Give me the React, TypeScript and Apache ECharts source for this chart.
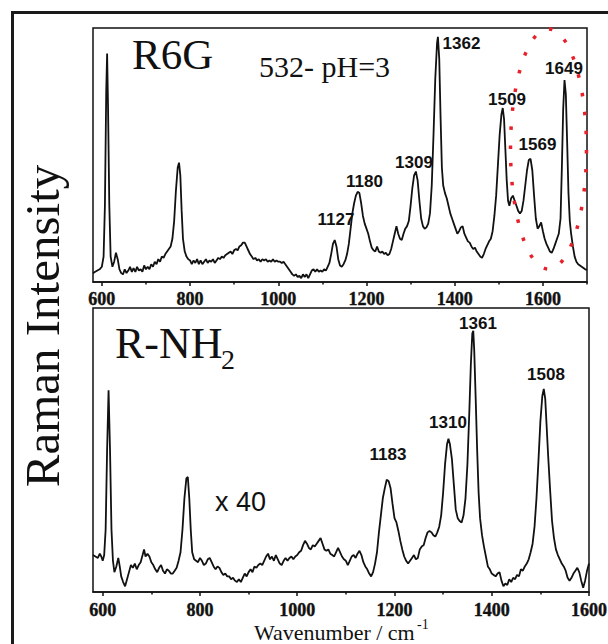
import React, { useEffect, useRef } from "react";
import * as echarts from "echarts";

// ---------- DATA ----------
const topWavenumbers = [
  580, 585, 590, 595, 600, 604, 607, 610, 612, 614, 617, 620, 624, 628, 632, 636, 640, 644, 648, 652,
  656, 660, 664, 668, 672, 676, 680, 684, 688, 692, 696, 700, 704, 708, 712, 716, 720, 724, 728, 732,
  736, 740, 744, 748, 752, 756, 760, 764, 768, 772, 775, 778, 781, 784, 788, 792, 796, 800, 804, 808,
  812, 816, 820, 824, 828, 832, 836, 840, 844, 848, 852, 856, 860, 864, 868, 872, 876, 880, 884, 888,
  892, 896, 900, 904, 908, 912, 916, 920, 924, 928, 932, 936, 940, 944, 948, 952, 956, 960, 964, 968,
  972, 976, 980, 984, 988, 992, 996, 1000, 1004, 1008, 1012, 1016, 1020, 1024, 1028, 1032, 1036, 1040,
  1044, 1048, 1052, 1056, 1060, 1064, 1068, 1072, 1076, 1080, 1084, 1088, 1092, 1096, 1100, 1104, 1108,
  1112, 1116, 1120, 1124, 1128, 1132, 1136, 1140, 1144, 1148, 1152, 1156, 1160, 1164, 1168, 1172, 1176,
  1180, 1184, 1188, 1192, 1196, 1200, 1204, 1208, 1212, 1216, 1220, 1224, 1228, 1232, 1236, 1240, 1244,
  1248, 1252, 1256, 1260, 1264, 1268, 1272, 1276, 1280, 1284, 1288, 1292, 1296, 1300, 1304, 1308, 1312,
  1316, 1320, 1324, 1328, 1332, 1336, 1340, 1344, 1348, 1352, 1356, 1360, 1362, 1365, 1368, 1371, 1374,
  1378, 1382, 1386, 1390, 1394, 1398, 1402, 1406, 1410, 1414, 1418, 1422, 1426, 1430, 1434, 1438, 1442,
  1446, 1450, 1454, 1458, 1462, 1466, 1470, 1474, 1478, 1482, 1486, 1490, 1494, 1498, 1502, 1506, 1509,
  1512, 1515, 1518, 1521, 1524, 1528, 1532, 1536, 1540, 1544, 1548, 1552, 1556, 1560, 1564, 1568, 1572,
  1576, 1580, 1584, 1588, 1592, 1596, 1600, 1604, 1608, 1612, 1616, 1620, 1624, 1628, 1632, 1636, 1640,
  1643, 1646, 1649, 1652, 1655, 1658, 1661, 1664, 1668, 1672, 1676, 1680, 1684, 1688, 1692, 1696, 1700,
];
const topIntensity = [
  3.5, 4, 4.5, 5, 6, 10, 30, 75, 90, 70, 30, 10, 6, 8, 11.5, 9, 5, 3.5, 3, 5,
  3.5, 4.5, 6, 4, 5.5, 4, 6, 4.5, 5, 4, 6.5, 5, 6, 5, 7, 6, 8, 7, 9, 8,
  10, 9.5, 11, 12, 13, 14, 17, 24, 36, 45, 47, 42, 28, 17, 12, 10, 9, 8.5, 7, 8.5,
  7.5, 9, 7, 8.5, 7, 8, 9, 7.5, 8.5, 8, 9, 7.5, 8.5, 9.5, 9, 10, 9.5, 10.5, 11, 11.5,
  12, 11, 12.5, 13, 12.5, 14, 14.5, 15.5, 15.5, 14, 12.5, 11, 10, 9, 9.5, 8.5, 9, 8, 9, 8.5,
  9, 8, 8.5, 8, 9, 8, 8.5, 8, 8, 7.5, 8, 7, 6, 5, 4, 3, 2.5, 3,
  2, 2.5, 1.5, 3, 2, 3, 1.5, 3, 4.5, 5, 4, 5, 4, 4.5, 4, 5, 4.5,
  6, 7.5, 11, 15, 16.5, 14, 9, 6.5, 6, 7, 8.5, 11, 15, 21, 27, 31, 34,
  35.5, 35, 31, 26, 23, 21, 19, 16, 13.5, 12.5, 12, 14, 12, 11.5, 12, 11, 11.5,
  10.5, 11, 13, 16, 19, 22, 19, 17, 16.5, 19, 21, 22, 24, 30, 37, 42, 43.5,
  40, 32, 25, 22, 21, 21.5, 23, 27, 38, 58, 80, 94, 96.5, 88, 65, 45, 38,
  35, 33, 30, 27, 25, 23, 21, 19, 20, 21.5, 22, 19, 17.5, 16, 15.5, 14, 13,
  13.5, 12, 11, 10, 9.5, 11, 13, 14.5, 16, 17, 20, 26, 34, 46, 58, 66, 68.5,
  64, 52, 40, 32, 30, 33, 34, 32, 30, 28, 27, 28, 32, 38, 44, 48, 48.5,
  44, 34, 25, 21, 22, 23.5, 20, 17, 15, 13.5, 12, 11.5, 13, 15, 17, 19, 25,
  45, 68, 79.5, 74, 55, 35, 24, 19, 14, 10, 8, 7, 6.5, 6, 5.5, 5, 4.8,
];

const bottomWavenumbers = [
  580, 585, 590, 594, 597, 600, 603, 606, 609, 612, 615, 618, 621, 624, 628, 632, 635, 638, 642, 646,
  650, 654, 658, 662, 666, 670, 674, 678, 682, 685, 688, 692, 696, 700, 704, 708, 712, 716, 720, 724,
  728, 732, 736, 740, 744, 748, 752, 756, 760, 764, 768, 772, 775, 778, 781, 784, 788, 792, 796, 800,
  804, 808, 812, 816, 820, 824, 828, 832, 836, 840, 844, 848, 852, 856, 860, 864, 868, 872, 876, 880,
  884, 888, 892, 896, 900, 904, 908, 912, 916, 920, 924, 928, 932, 936, 940, 944, 948, 952, 956, 960,
  964, 968, 972, 976, 980, 984, 988, 992, 996, 1000, 1004, 1008, 1012, 1016, 1020, 1024, 1028, 1032, 1036, 1040,
  1044, 1048, 1052, 1056, 1060, 1064, 1068, 1072, 1076, 1080, 1084, 1088, 1092, 1096, 1100, 1104, 1108, 1112, 1116, 1120,
  1124, 1128, 1132, 1136, 1140, 1144, 1148, 1152, 1156, 1160, 1164, 1168, 1172, 1176, 1180, 1184, 1188, 1192, 1196, 1200,
  1204, 1208, 1212, 1216, 1220, 1224, 1228, 1232, 1236, 1240, 1244, 1248, 1252, 1256, 1260, 1264, 1268, 1272, 1276, 1280,
  1284, 1288, 1292, 1296, 1300, 1304, 1308, 1311, 1314, 1318, 1322, 1326, 1330, 1334, 1338, 1342, 1346, 1350, 1354, 1357,
  1360, 1362, 1364, 1367, 1370, 1373, 1376, 1380, 1384, 1388, 1392, 1396, 1400, 1404, 1408, 1412, 1416, 1420, 1424, 1428,
  1432, 1436, 1440, 1444, 1448, 1452, 1456, 1460, 1464, 1468, 1472, 1476, 1480, 1484, 1488, 1492, 1496, 1500, 1504, 1507,
  1510, 1513, 1516, 1520, 1524, 1528, 1532, 1536, 1540, 1544, 1548, 1552, 1556, 1560, 1564, 1568, 1572, 1576, 1580, 1584,
  1588, 1592, 1596, 1600,
];
const bottomIntensity = [
  13, 12.5, 12, 13.5, 12.5, 11, 13, 22, 50, 71, 50, 22, 11, 7, 9, 12, 9, 5.5, 3.5, 2,
  4.5, 7, 9.5, 8.5, 10, 8, 9.5, 10.5, 13, 15, 12.5, 13.5, 12.5, 10.5, 9.5, 8, 7, 8.5, 9.5, 7.5,
  6.5, 8, 7.5, 6.5, 6.5, 7.5, 8.5, 11, 14, 22, 33, 40, 40.5, 33, 22, 14, 11.5, 11, 10.5, 12,
  11, 9.5, 10, 11.5, 12, 10.5, 9, 8, 9, 8.5, 7, 6, 6.5, 5.5, 5.5, 4.5, 5, 4, 3.5, 4.5,
  3.5, 5, 6.5, 5.5, 7, 8, 7, 9, 8.5, 9.5, 10, 9.5, 11, 12.5, 13.5, 11.5, 12.5, 11, 13, 11.5,
  10, 9.5, 11, 12, 11, 12, 12.5, 11.5, 12.5, 13, 14, 14.5, 16.5, 18, 17, 15.5, 15, 16.5, 16, 17,
  18, 19, 17, 15, 14.5, 15, 13.5, 13, 12.5, 14, 15.5, 14, 12.5, 11.5, 11, 9.5, 11, 12.5, 13, 12,
  13.5, 14.5, 13, 10.5, 9, 8, 6.5, 5.5, 7, 10, 14, 21, 27, 33, 36.5, 39.5, 39, 36.5, 31, 26,
  24.5, 21.5, 18, 15, 12.5, 11, 10, 11, 12, 13, 11.5, 12, 15, 16, 16.5, 19, 21, 21.5, 21, 20,
  19.5, 21, 23, 27, 35, 45, 52, 54, 52, 47, 38, 29, 26, 25, 24.5, 27, 33, 45, 64, 80,
  91, 92, 85, 68, 50, 35, 26, 20, 16, 12.5, 9, 8, 6.5, 6, 5.5, 6.5, 7, 4, 2, 3,
  2.5, 4.5, 3.5, 5, 4.5, 6, 5.5, 8, 7.5, 9, 10, 11.5, 14, 17, 23, 33, 46, 60, 69, 71.5,
  68, 58, 48, 36, 25, 19, 15, 13, 11.5, 10, 9, 7.5, 5, 4, 5, 6.5, 7.5, 8.5, 7, 4,
  1.5, 4, 7.5, 10,
];

const majorTicks = [600, 800, 1000, 1200, 1400, 1600];
const topMinorTicks = [700, 900, 1100, 1300, 1500, 1700];
const bottomMinorTicks = [700, 900, 1100, 1300, 1500];

const topPeakLabels = ["1362", "1649", "1509", "1569", "1309", "1180", "1127"];
const bottomPeakLabels = ["1361", "1508", "1310", "1183"];

// ---------- LAYOUT / STYLE ----------
const SERIF = "Liberation Serif";
const SANS = "Liberation Sans";
const INK = "#111111";

const topLabelPos: [number, number][] = [
  [461.5, 43], [564, 68], [507, 99], [537.5, 144], [414, 162], [364.5, 181], [336, 219],
];
const bottomLabelPos: [number, number][] = [
  [478, 323], [546, 374], [448, 422], [388, 454],
];
const TOP_TICK_LABEL_Y = 299;
const BOTTOM_TICK_LABEL_Y = 610;

function txt(x: number, y: number, text: string, size: number, family: string, opts: any = {}) {
  const align = opts.align || "center";
  const weight = opts.weight || "normal";
  return {
    type: "text",
    x,
    y,
    rotation: opts.rotation || 0,
    z: 100,
    style: {
      text,
      font: `${weight} ${size}px "${family}", serif`,
      fontSize: size,
      fontFamily: family,
      fontWeight: weight,
      fill: INK,
      align,
      textAlign: align,
      verticalAlign: "middle",
      textVerticalAlign: "middle",
      stroke: opts.stroke ? INK : undefined,
      lineWidth: opts.stroke || 0,
    },
  };
}

function makeXAxes(gridIndex: number, max: number, minor: number[]) {
  return [
    {
      type: "value",
      gridIndex,
      min: 580,
      max,
      position: "bottom",
      splitLine: { show: false },
      axisLine: { show: true, lineStyle: { color: INK, width: 1.5 } },
      axisTick: {
        show: true,
        customValues: majorTicks,
        inside: false,
        length: 4,
        lineStyle: { color: INK, width: 1.5 },
      },
      axisLabel: { show: false },
    },
    {
      type: "value",
      gridIndex,
      min: 580,
      max,
      position: "bottom",
      splitLine: { show: false },
      axisLine: { show: false },
      axisLabel: { show: false },
      axisTick: {
        show: true,
        customValues: minor,
        inside: false,
        length: 2.5,
        lineStyle: { color: INK, width: 1.5 },
      },
    },
  ];
}

export default function App() {
  const ref = useRef<HTMLDivElement>(null);

  useEffect(() => {
    if (!ref.current) return;
    const chart = echarts.init(ref.current, null, { renderer: "svg" });

    const topData = topWavenumbers.map((w, i) => [w, topIntensity[i]]);
    const bottomData = bottomWavenumbers.map((w, i) => [w, bottomIntensity[i]]);

    const graphics: any[] = [
      {
        type: "rect",
        z: 100,
        shape: { x: 12.5, y: 12.5, width: 700, height: 700 },
        style: { fill: "none", stroke: "#1a1a1a", lineWidth: 3 },
      },
      txt(42, 326, "Raman Intensity", 49, SERIF, { rotation: Math.PI / 2 }),
      txt(132, 54, "R6G", 43, SERIF, { align: "left" }),
      txt(259, 66, "532- pH=3", 30, SERIF, { align: "left" }),
      txt(115, 343, "R-NH", 44, SERIF, { align: "left" }),
      txt(221, 359, "2", 28, SERIF, { align: "left" }),
      txt(215, 502, "x 40", 27, SANS, { align: "left" }),
      txt(254, 632, "Wavenumber / cm", 22, SERIF, { align: "left" }),
      txt(417, 624, "-1", 14, SERIF, { align: "left" }),
      {
        type: "ellipse",
        z: 110,
        shape: { cx: 548.5, cy: 149, rx: 38, ry: 120 },
        style: {
          fill: "none",
          stroke: "#e8202a",
          lineWidth: 3.5,
          lineDash: [3.5, 15.5],
        },
      },
    ];
    topPeakLabels.forEach((t, i) => {
      graphics.push(txt(topLabelPos[i][0], topLabelPos[i][1], t, 17, SANS, { weight: "bold" }));
    });
    bottomPeakLabels.forEach((t, i) => {
      graphics.push(txt(bottomLabelPos[i][0], bottomLabelPos[i][1], t, 17, SANS, { weight: "bold" }));
    });

    chart.setOption({
      animation: false,
      backgroundColor: "#ffffff",
      grid: [
        { left: 93, top: 28, width: 494, height: 254, show: true, borderColor: INK, borderWidth: 1.5, backgroundColor: "transparent" },
        { left: 93, top: 308, width: 496, height: 284, show: true, borderColor: INK, borderWidth: 1.5, backgroundColor: "transparent" },
      ],
      xAxis: [...makeXAxes(0, 1700, topMinorTicks), ...makeXAxes(1, 1600, bottomMinorTicks)],
      yAxis: [
        { type: "value", gridIndex: 0, min: 0, max: 100, show: false },
        { type: "value", gridIndex: 1, min: 0, max: 100, show: false },
      ],
      series: [
        {
          type: "line",
          xAxisIndex: 0,
          yAxisIndex: 0,
          data: topData,
          symbol: "none",
          showSymbol: false,
          lineStyle: { color: INK, width: 1.8 },
          clip: true,
        },
        {
          type: "line",
          xAxisIndex: 2,
          yAxisIndex: 1,
          data: bottomData,
          symbol: "none",
          showSymbol: false,
          lineStyle: { color: INK, width: 1.8 },
          clip: true,
        },
      ],
      graphic: graphics,
    });

    // Tick labels placed through the library's own x scales
    const tickLabels: any[] = [];
    majorTicks.forEach((v) => {
      const xt = chart.convertToPixel({ xAxisIndex: 0 }, v) as number;
      tickLabels.push(txt(xt, TOP_TICK_LABEL_Y, String(v), 18, SERIF, { weight: "bold", stroke: 0.4 }));
      const xb = chart.convertToPixel({ xAxisIndex: 2 }, v) as number;
      tickLabels.push(txt(xb, BOTTOM_TICK_LABEL_Y, String(v), 18, SERIF, { weight: "bold", stroke: 0.4 }));
    });
    chart.setOption({ graphic: [...graphics, ...tickLabels] });

    return () => chart.dispose();
  }, []);

  return (
    <div
      ref={ref}
      style={{ position: "fixed", left: 0, top: 0, width: 608, height: 644, background: "#fff" }}
    />
  );
}
